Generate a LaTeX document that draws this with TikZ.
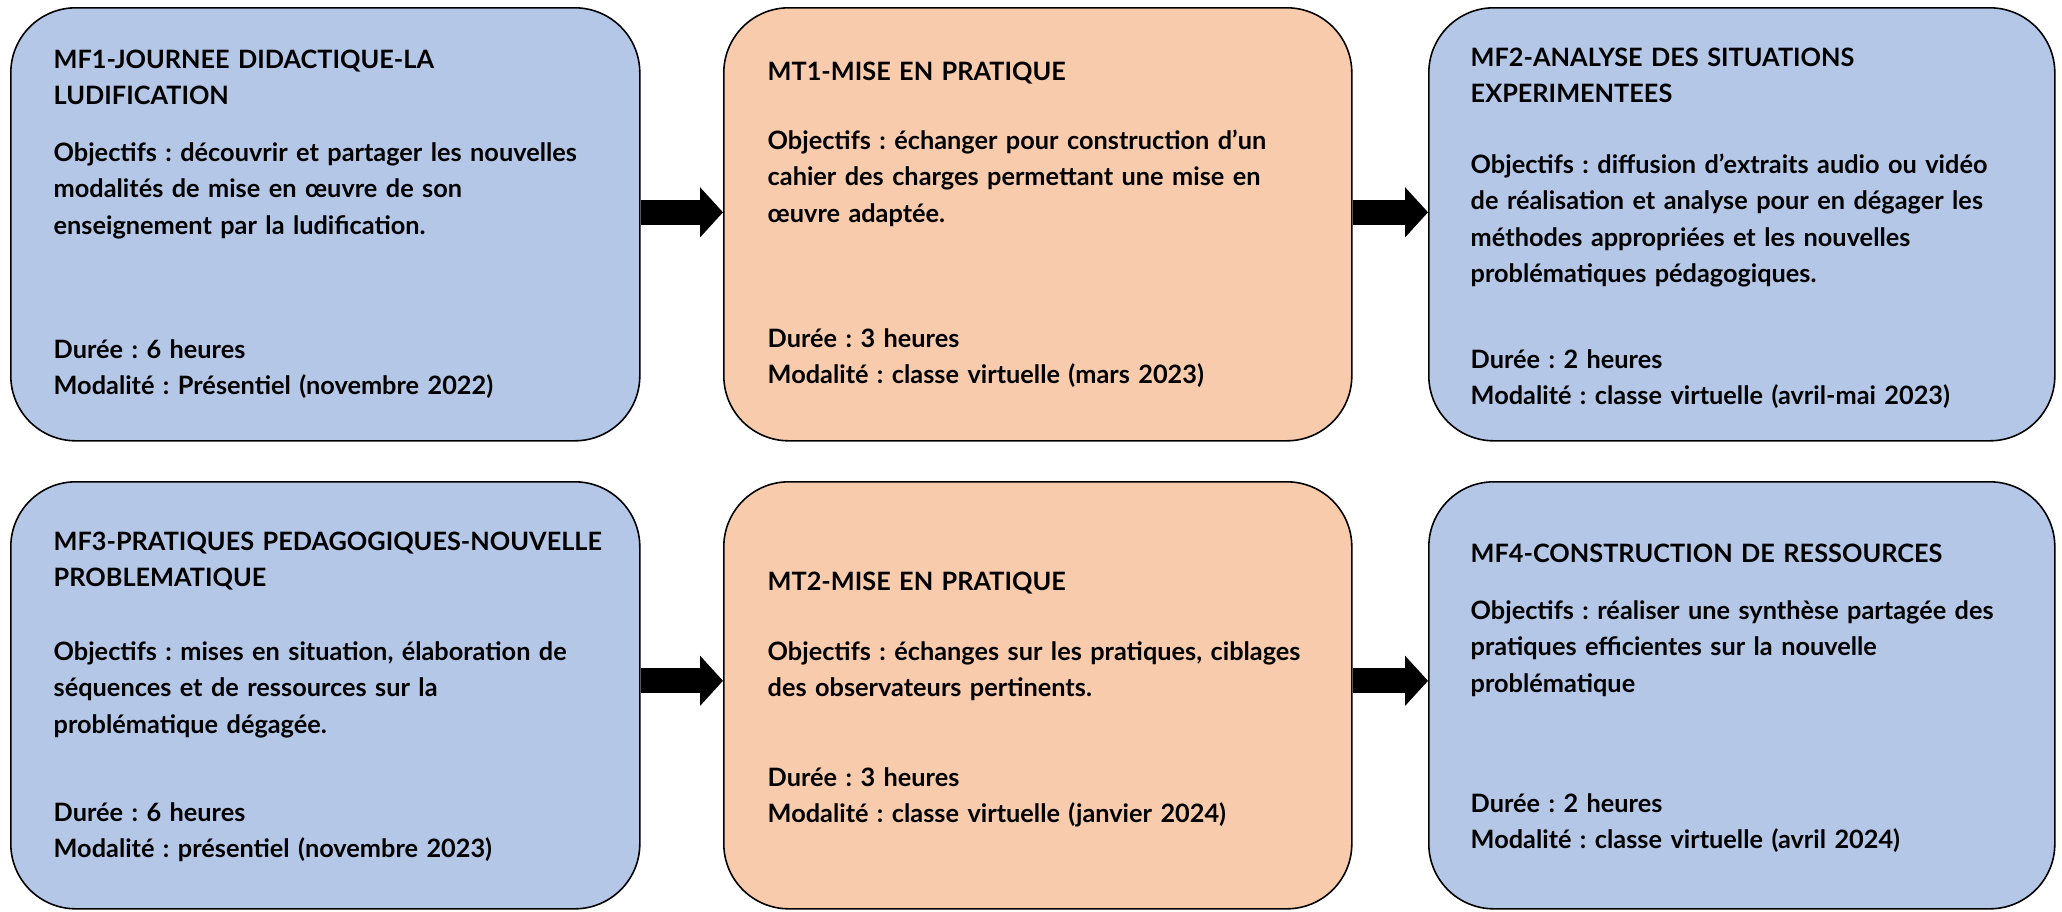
\documentclass[tikz,border=0pt]{standalone}
\usepackage{fontspec}
\setmainfont{Lato}
\usetikzlibrary{arrows.meta}
\frenchspacing

\definecolor{boxblue}{HTML}{B4C7E7}
\definecolor{boxpeach}{HTML}{F8CBAD}

\tikzset{
  module/.style={draw=black, line width=0.45pt, rounded corners=0.65cm,
    anchor=north west, inner sep=0pt},
  mfbox/.style={module, fill=boxblue},
  mtbox/.style={module, fill=boxpeach},
  txt/.style={anchor=base west, inner sep=0pt, text width=6cm, align=left,
    font=\bfseries\fontsize{7.2pt}{0.365cm}\selectfont},
  flow/.style={line width=0.25cm, -{Triangle[length=0.23cm,width=0.49cm]}}
}

\begin{document}
\begin{tikzpicture}
  \useasboundingbox (0,0) rectangle (20.62,-9.11);

  % first row
  \node[mfbox, minimum width=6.29cm, minimum height=4.33cm] (mf1) at (0.10,-0.07) {};
  \node[mtbox, minimum width=6.28cm, minimum height=4.33cm] (mt1) at (7.23,-0.07) {};
  \node[mfbox, minimum width=6.26cm, minimum height=4.33cm] (mf2) at (14.28,-0.07) {};

  \node[txt] (mf1t) at (0.53,-0.68) {MF1-JOURNEE DIDACTIQUE-LA\\LUDIFICATION};
  \node[txt] (mf1o) at (0.53,-1.61) {Objectifs : découvrir et partager les nouvelles\\modalités de mise en œuvre de son\\enseignement par la ludification.};
  \node[txt] (mf1d) at (0.53,-3.58) {Durée : 6 heures\\Modalité : Présentiel (novembre 2022)};

  \node[txt] (mt1t) at (7.67,-0.80) {MT1-MISE EN PRATIQUE};
  \node[txt] (mt1o) at (7.67,-1.49) {Objectifs : échanger pour construction d’un\\cahier des charges permettant une mise en\\œuvre adaptée.};
  \node[txt] (mt1d) at (7.67,-3.47) {Durée : 3 heures\\Modalité : classe virtuelle (mars 2023)};

  \node[txt] (mf2t) at (14.70,-0.66) {MF2-ANALYSE DES SITUATIONS\\EXPERIMENTEES};
  \node[txt] (mf2o) at (14.70,-1.73) {Objectifs : diffusion d’extraits audio ou vidéo\\de réalisation et analyse pour en dégager les\\méthodes appropriées et les nouvelles\\problématiques pédagogiques.};
  \node[txt] (mf2d) at (14.70,-3.68) {Durée : 2 heures\\Modalité : classe virtuelle (avril-mai 2023)};

  % second row
  \node[mfbox, minimum width=6.29cm, minimum height=4.27cm] (mf3) at (0.10,-4.81) {};
  \node[mtbox, minimum width=6.28cm, minimum height=4.27cm] (mt2) at (7.23,-4.81) {};
  \node[mfbox, minimum width=6.26cm, minimum height=4.27cm] (mf4) at (14.28,-4.81) {};

  \node[txt] (mf3t) at (0.53,-5.50) {MF3-PRATIQUES PEDAGOGIQUES-NOUVELLE\\PROBLEMATIQUE};
  \node[txt] (mf3o) at (0.53,-6.60) {Objectifs : mises en situation, élaboration de\\séquences et de ressources sur la\\problématique dégagée.};
  \node[txt] (mf3d) at (0.53,-8.21) {Durée : 6 heures\\Modalité : présentiel (novembre 2023)};

  \node[txt] (mt2t) at (7.67,-5.90) {MT2-MISE EN PRATIQUE};
  \node[txt] (mt2o) at (7.67,-6.60) {Objectifs : échanges sur les pratiques, ciblages\\des observateurs pertinents.};
  \node[txt] (mt2d) at (7.67,-7.86) {Durée : 3 heures\\Modalité : classe virtuelle (janvier 2024)};

  \node[txt] (mf4t) at (14.70,-5.62) {MF4-CONSTRUCTION DE RESSOURCES};
  \node[txt] (mf4o) at (14.70,-6.19) {Objectifs : réaliser une synthèse partagée des\\pratiques efficientes sur la nouvelle\\problématique};
  \node[txt] (mf4d) at (14.70,-8.12) {Durée : 2 heures\\Modalité : classe virtuelle (avril 2024)};

  % arrows
  \draw[flow] ([yshift=0.12cm]mf1.east) -- ([yshift=0.12cm]mt1.west);
  \draw[flow] ([yshift=0.12cm]mt1.east) -- ([yshift=0.12cm]mf2.west);
  \draw[flow] ([yshift=0.145cm]mf3.east) -- ([yshift=0.145cm]mt2.west);
  \draw[flow] ([yshift=0.145cm]mt2.east) -- ([yshift=0.145cm]mf4.west);
\end{tikzpicture}
\end{document}
